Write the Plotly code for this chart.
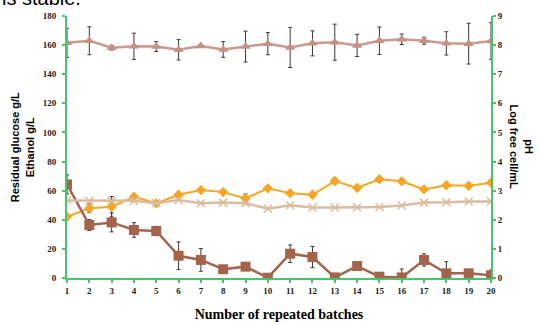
import plotly.graph_objects as go

batches = list(range(1, 21))
x_ticks = [str(b) for b in batches]

# Left axis (g/L)
glucose = [64.3, 36.4, 38.2, 33.0, 32.3, 15.3, 12.4, 6.0, 7.8, 0.2,
           16.7, 14.4, 0.4, 8.2, 0.9, 0.4, 12.4, 3.2, 3.2, 1.8]
glucose_err = [6.5, 3.7, 6.5, 5.0, 3.2, 9.5, 7.8, 0.5, 1.0, 0.3,
               6.0, 7.3, 0.5, 1.0, 1.0, 5.8, 4.2, 8.0, 1.0, 3.7]
ethanol = [42.1, 47.9, 49.0, 55.8, 51.3, 57.2, 60.4, 59.0, 54.7, 61.6,
           58.2, 57.2, 66.6, 61.8, 67.8, 66.4, 60.9, 63.7, 63.4, 65.5]
ethanol_err = [1.0, 3.0, 7.0, 1.0, 1.0, 1.0, 1.0, 1.0, 3.0, 1.0,
               1.0, 1.0, 2.0, 1.0, 1.0, 1.5, 1.0, 1.0, 1.0, 1.0]

# Right axis
log_cells = [8.08, 8.15, 7.91, 7.96, 7.95, 7.84, 7.97, 7.85, 7.95, 8.05,
             7.92, 8.06, 8.10, 7.99, 8.15, 8.20, 8.15, 8.06, 8.05, 8.14]
log_cells_err = [0.50, 0.48, 0.08, 0.45, 0.17, 0.35, 0.05, 0.27, 0.53, 0.38,
                 0.69, 0.43, 0.62, 0.38, 0.47, 0.18, 0.12, 0.40, 0.70, 0.63]
ph = [2.66, 2.65, 2.65, 2.65, 2.57, 2.68, 2.57, 2.59, 2.57, 2.38,
      2.50, 2.42, 2.42, 2.43, 2.44, 2.49, 2.59, 2.60, 2.63, 2.63]

left_ticks = [0, 20, 40, 60, 80, 100, 120, 140, 160, 180]
right_ticks = [0, 1, 2, 3, 4, 5, 6, 7, 8, 9]

GREEN = "#45c66a"
ERR = "#3a3a3a"
tickfont = dict(family="Liberation Serif", size=9, color="#222", weight="bold")

fig = go.Figure()

fig.add_trace(go.Scatter(
    x=batches, y=ph, yaxis="y2", mode="lines+markers", name="pH",
    line=dict(color="#dcbc9e", width=2.5),
    marker=dict(symbol="x-thin-open", size=8, line=dict(color="#c9a584", width=1.5)),
))
fig.add_trace(go.Scatter(
    x=batches, y=ethanol, mode="lines+markers", name="Ethanol",
    line=dict(color="#f6a623", width=2),
    marker=dict(symbol="diamond", size=8, color="#f6a623"),
    error_y=dict(type="data", array=ethanol_err, color=ERR, thickness=1, width=2),
))
fig.add_trace(go.Scatter(
    x=batches, y=glucose, mode="lines+markers", name="Residual glucose",
    line=dict(color="#a6634c", width=2.5),
    marker=dict(symbol="square", size=10, color="#a6634c"),
    error_y=dict(type="data", array=glucose_err, color=ERR, thickness=1, width=2),
))
fig.add_trace(go.Scatter(
    x=batches, y=log_cells, yaxis="y2", mode="lines+markers", name="Log free cell/mL",
    line=dict(color="#c99a8d", width=2.5),
    marker=dict(symbol="triangle-up", size=9, color="#c49184"),
    error_y=dict(type="data", array=log_cells_err, color=ERR, thickness=1, width=2),
))

fig.update_layout(
    width=541, height=322,
    margin=dict(l=67, r=50, t=16, b=44),
    paper_bgcolor="white", plot_bgcolor="white",
    showlegend=False,
    xaxis=dict(
        range=[1, 20], tickmode="array", tickvals=batches, ticktext=x_ticks,
        showgrid=False, zeroline=False, showline=True, linecolor=GREEN, linewidth=2,
        ticks="outside", tickcolor=GREEN, ticklen=3, tickwidth=1.5,
        tickfont=tickfont, automargin=False,
        title=dict(text="<b>Number of repeated batches</b>",
                   font=dict(family="Liberation Serif", size=14, color="#000"),
                   standoff=14),
    ),
    yaxis=dict(
        range=[0, 180], tickmode="array", tickvals=left_ticks,
        showgrid=False, zeroline=False, showline=True, linecolor=GREEN, linewidth=2,
        ticks="outside", tickcolor=GREEN, ticklen=3, tickwidth=1.5,
        tickfont=tickfont, automargin=False, ticklabelstandoff=4,
    ),
    yaxis2=dict(
        range=[0, 9], tickmode="array", tickvals=right_ticks, overlaying="y", side="right",
        showgrid=False, zeroline=False, showline=True, linecolor=GREEN, linewidth=2,
        ticks="outside", tickcolor=GREEN, ticklen=3, tickwidth=1.5,
        tickfont=tickfont, automargin=False,
    ),
    annotations=[
        dict(text="<b>Residual glucose g/L<br>Ethanol g/L</b>", xref="paper", yref="paper",
             x=-0.141, y=0.5, textangle=-90, showarrow=False, xanchor="left",
             font=dict(family="Liberation Sans", size=11, color="#000")),
        dict(text="<b>pH<br>Log free cell/mL</b>", xref="paper", yref="paper",
             x=1.072, y=0.5, textangle=90, showarrow=False, xanchor="center",
             font=dict(family="Liberation Sans", size=11, color="#000")),
        dict(text="is stable.", xref="paper", yref="paper", x=-0.158, y=1.02,
             xanchor="left", yanchor="bottom", showarrow=False,
             font=dict(family="Liberation Sans", size=20, color="#000")),
    ],
)

fig.write_html("out.html", config={"displayModeBar": False},
               post_script="document.body.style.margin='0';")
